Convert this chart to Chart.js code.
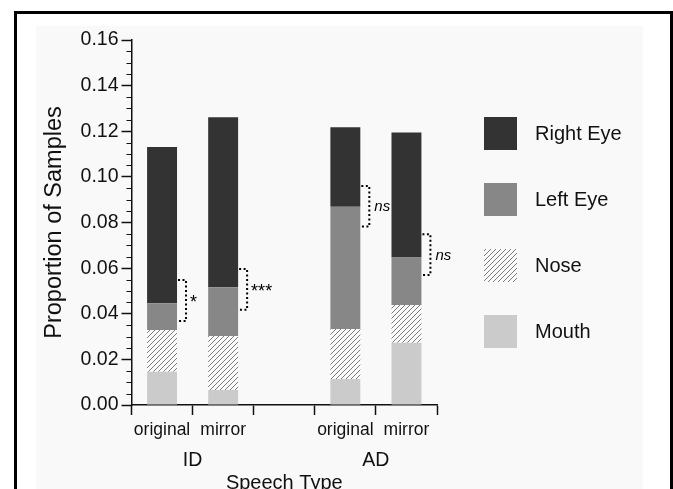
<!DOCTYPE html>
<html>
<head>
<meta charset="utf-8">
<script src="https://cdn.jsdelivr.net/npm/chart.js@4.4.1/dist/chart.umd.min.js"></script>
<style>
  html, body { margin: 0; padding: 0; background: #fff; overflow: hidden; }
  body { width: 673px; height: 489px; position: relative; }
  #frame { position: absolute; left: 14px; top: 11px; width: 659px; height: 600px; border: 3px solid #000; box-sizing: border-box; }
  #panel { position: absolute; left: 36px; top: 26px; width: 607px; height: 500px; background: #f9f9f9; }
  #chart { position: absolute; left: 0; top: 0; }
</style>
</head>
<body>
<div id="frame"></div>
<div id="panel"></div>
<canvas id="chart" width="673" height="500"></canvas>
<script>
// ── DATA ──────────────────────────────────────────────────────────────────────
var categories = ['original', 'mirror', '', 'original', 'mirror'];
var groups = ['ID', 'AD'];
var groupSpan = [[0, 1], [3, 4]];

var mouth    = [0.0146, 0.0066, null, 0.0114, 0.0273];
var nose     = [0.0183, 0.0236, null, 0.0219, 0.0165];
var leftEye  = [0.0117, 0.0214, null, 0.0536, 0.0209];
var rightEye = [0.0685, 0.0745, null, 0.0348, 0.0548];

// dotted significance brackets (y range) and their labels
var bracketLow  = [0.0368, 0.0417, null, 0.0782, 0.0570];
var bracketHigh = [0.0548, 0.0596, null, 0.0960, 0.0748];
var bracketText = ['*', '***', '', 'ns', 'ns'];

var FONT = '"Liberation Sans", Arial, Helvetica, sans-serif';
var INK = '#111';

function hatchPattern() {
  var c = document.createElement('canvas');
  c.width = 5; c.height = 5;
  var g = c.getContext('2d');
  g.fillStyle = '#fafafa';
  g.fillRect(0, 0, 5, 5);
  g.strokeStyle = '#5a5a5a';
  g.lineWidth = 0.8;
  g.beginPath();
  g.moveTo(0, 5); g.lineTo(5, 0);
  g.moveTo(-1, 1); g.lineTo(1, -1);
  g.moveTo(4, 6); g.lineTo(6, 4);
  g.stroke();
  return g.createPattern(c, 'repeat');
}

var canvas = document.getElementById('chart');
var hatch = hatchPattern();

// ── PLUGINS ───────────────────────────────────────────────────────────────────
var minorTicks = {
  id: 'minorTicks',
  afterDraw: function(chart) {
    var y = chart.scales.y, ctx = chart.ctx;
    ctx.save();
    ctx.strokeStyle = INK;
    ctx.lineWidth = 1;
    for (var i = 1; i < 32; i++) {
      if (i % 4 === 0) continue;
      var py = Math.round(y.getPixelForValue(i * 0.005)) + 0.5;
      ctx.beginPath();
      ctx.moveTo(y.right - 5, py);
      ctx.lineTo(y.right, py);
      ctx.stroke();
    }
    ctx.restore();
  }
};

var brackets = {
  id: 'brackets',
  afterDatasetsDraw: function(chart) {
    var y = chart.scales.y, ctx = chart.ctx;
    var meta = chart.getDatasetMeta(3);
    ctx.save();
    ctx.strokeStyle = '#000';
    ctx.lineWidth = 2;
    ctx.setLineDash([2, 2.5]);
    ctx.fillStyle = '#000';
    for (var i = 0; i < categories.length; i++) {
      if (bracketLow[i] === null) continue;
      var bar = meta.data[i];
      var x0 = bar.x + bar.width / 2 + 1;
      var bx = x0 + 8;
      var y1 = y.getPixelForValue(bracketHigh[i]);
      var y2 = y.getPixelForValue(bracketLow[i]);
      ctx.beginPath();
      ctx.moveTo(x0, y1); ctx.lineTo(bx, y1); ctx.lineTo(bx, y2); ctx.lineTo(x0, y2);
      ctx.stroke();
      var isNs = bracketText[i] === 'ns';
      ctx.font = (isNs ? 'italic 15px ' : '18px ') + FONT;
      ctx.textAlign = 'left';
      ctx.textBaseline = 'middle';
      ctx.fillText(bracketText[i], bx + (isNs ? 5 : 4), (y1 + y2) / 2 + (isNs ? 1 : 3));
    }
    ctx.restore();
  }
};

var groupLabels = {
  id: 'groupLabels',
  afterDraw: function(chart) {
    var x = chart.scales.x, ctx = chart.ctx;
    ctx.save();
    ctx.font = '19.5px ' + FONT;
    ctx.fillStyle = INK;
    ctx.textAlign = 'center';
    ctx.textBaseline = 'middle';
    groups.forEach(function(g, k) {
      var px = (x.getPixelForValue(groupSpan[k][0]) + x.getPixelForValue(groupSpan[k][1])) / 2;
      ctx.fillText(g, px, 461);
    });
    ctx.restore();
  }
};

var sideLegend = {
  id: 'sideLegend',
  afterDraw: function(chart) {
    var ctx = chart.ctx;
    var sets = chart.data.datasets.slice().reverse();
    ctx.save();
    ctx.font = '20px ' + FONT;
    ctx.textAlign = 'left';
    ctx.textBaseline = 'middle';
    sets.forEach(function(ds, k) {
      var top = 117 + k * 66;
      ctx.fillStyle = ds.backgroundColor;
      ctx.fillRect(484, top, 33, 33);
      ctx.fillStyle = INK;
      ctx.fillText(ds.label, 535, top + 17);
    });
    ctx.restore();
  }
};

// ── CHART ─────────────────────────────────────────────────────────────────────
new Chart(canvas, {
  type: 'bar',
  data: {
    labels: categories,
    datasets: [
      { label: 'Mouth', data: mouth, backgroundColor: '#cbcbcb' },
      { label: 'Nose', data: nose, backgroundColor: hatch },
      { label: 'Left Eye', data: leftEye, backgroundColor: '#878787' },
      { label: 'Right Eye', data: rightEye, backgroundColor: '#333333' }
    ]
  },
  options: {
    responsive: false,
    animation: false,
    events: [],
    datasets: { bar: { categoryPercentage: 1, barPercentage: 0.49, borderWidth: 0 } },
    layout: { padding: { top: 40, left: 0, right: 236, bottom: 0 } },
    plugins: { legend: { display: false }, tooltip: { enabled: false } },
    scales: {
      x: {
        type: 'category',
        stacked: true,
        offset: true,
        grid: { offset: true, drawOnChartArea: false, tickLength: 10, tickColor: INK, tickWidth: 1.5 },
        border: { color: INK, width: 1.5 },
        ticks: { color: INK, padding: 5, autoSkip: false, maxRotation: 0, minRotation: 0, font: { family: FONT, size: 17.5 } },
        title: { display: true, text: 'Speech Type', color: INK, font: { family: FONT, size: 20 }, padding: { top: 0, bottom: 5 } },
        afterFit: function(s) { s.height = 95; s.paddingLeft = 0; s.paddingRight = 0; }
      },
      y: {
        stacked: true,
        min: 0,
        max: 0.16,
        grid: { drawOnChartArea: false, tickLength: 10, tickColor: INK, tickWidth: 1.5 },
        border: { color: INK, width: 1.5 },
        ticks: {
          stepSize: 0.02,
          padding: 3,
          color: INK,
          font: { family: FONT, size: 19.5 },
          callback: function(v) { return v.toFixed(2); }
        },
        title: { display: true, text: 'Proportion of Samples', color: INK, font: { family: FONT, size: 23.5 }, padding: { top: 40 } },
        afterFit: function(s) { s.width = 131.5; s.paddingTop = 0; s.paddingBottom = 0; }
      }
    }
  },
  plugins: [minorTicks, brackets, groupLabels, sideLegend]
});
</script>
</body>
</html>
